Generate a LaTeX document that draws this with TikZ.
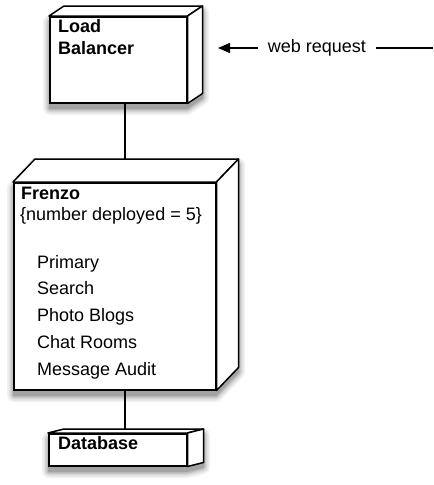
\documentclass[tikz,border=0pt]{standalone}
\usepackage{fontspec}
\setmainfont{Liberation Sans}
\usetikzlibrary{positioning,arrows.meta,calc}
\tikzset{
  fig/.style={font=\fontsize{18}{21}\selectfont},
  face/.style={draw,line width=1.5pt,fill=white,inner sep=0pt,anchor=north west},
  rim/.style={draw,line width=1.5pt,fill=white,line join=round},
  lnk/.style={line width=1.2pt},
  ln/.style={-{Triangle[length=12pt,width=10pt]},line width=1.2pt},
  ttl/.style={font=\fontsize{18}{21}\selectfont\bfseries,anchor=base west,inner sep=0pt},
  lbl/.style={anchor=base west,inner sep=0pt},
}
% soft shadow under a deployment node: corner x, y, width, height, depth x, depth y
\newcommand{\nodeshadow}[6]{%
  \foreach \rr/\gr in {7/5,5.5/10,4/17,2.5/26,1/36}{
    \filldraw[black!\gr,line width={2pt*\rr},line join=round]
      (#1+1,#2+6) -- ++(#5,-#6) -- ++(#3,0) -- ++(0,#4)
      -- ++(-#5,#6) -- ++(-#3,0) -- cycle;
  }
}
% top and side faces of a deployment node
\newcommand{\nodefaces}[3]{%
  \coordinate (#1-bnw) at ($(#1.north west)+(#2,-#3)$);
  \coordinate (#1-bne) at ($(#1.north east)+(#2,-#3)$);
  \coordinate (#1-bse) at ($(#1.south east)+(#2,-#3)$);
  \filldraw[rim] (#1.north west) -- (#1-bnw) -- (#1-bne) -- (#1.north east) -- cycle;
  \filldraw[rim] (#1.north east) -- (#1-bne) -- (#1-bse) -- (#1.south east) -- cycle;
}

\begin{document}
\begin{tikzpicture}[fig,x=1pt,y=-1pt]
\useasboundingbox (0,0) rectangle (434,485);

\def\ls{26.75}

% shadows first, then the links, then the boxes on top
\nodeshadow{49}{16}{137}{86}{15}{10}
\nodeshadow{13}{182}{202}{207}{22}{23}
\nodeshadow{48}{433}{138}{32}{16}{4}

\coordinate (lb-mid) at (125,59);
\coordinate (fr-mid) at (125,285);
\coordinate (db-mid) at (125,449);
\draw[lnk] (lb-mid) -- (fr-mid);
\draw[lnk] (fr-mid) -- (db-mid);

% ------------------------------------------------ 1: load balancer
\node[face,minimum width=137pt,minimum height=86pt] (lb) at (49,16) {};
\nodefaces{lb}{15}{10}
\foreach \t [count=\n from 0] in {Load,Balancer}
  {\node[ttl] (lb-t\n) at ($(lb.north west)+(9,16+22*\n)$) {\t};}

% ------------------------------------------------ 2: the web servers
\node[face,minimum width=202pt,minimum height=207pt] (fr) at (13,182) {};
\nodefaces{fr}{22}{23}
\node[ttl] (fr-name) at ($(fr.north west)+(8,17)$) {Frenzo};
\node[lbl] (fr-tag) at ($(fr.north west)+(7,38)$) {\{number deployed = 5\}};
\foreach \t [count=\n from 0] in {Primary,Search,Photo Blogs,Chat Rooms,Message Audit}
  {\node[lbl] (fr-c\n) at ($(fr.north west)+(24,86+\ls*\n)$) {\t};}

% ------------------------------------------------ 3: database
\node[face,minimum width=138pt,minimum height=32pt] (db) at (48,433) {};
\nodefaces{db}{16}{4}
\node[ttl] (db-t) at ($(db.north west)+(10,16)$) {Database};

% incoming request
\coordinate (wr) at (433,48);
\coordinate (wr-tip) at (218,48);
\node[inner xsep=10pt,inner ysep=0pt] (req) at (317,48) {web request};
\draw[lnk] (wr) -- (req.east);
\draw[ln] (req.west) -- (wr-tip);

\end{tikzpicture}
\end{document}
